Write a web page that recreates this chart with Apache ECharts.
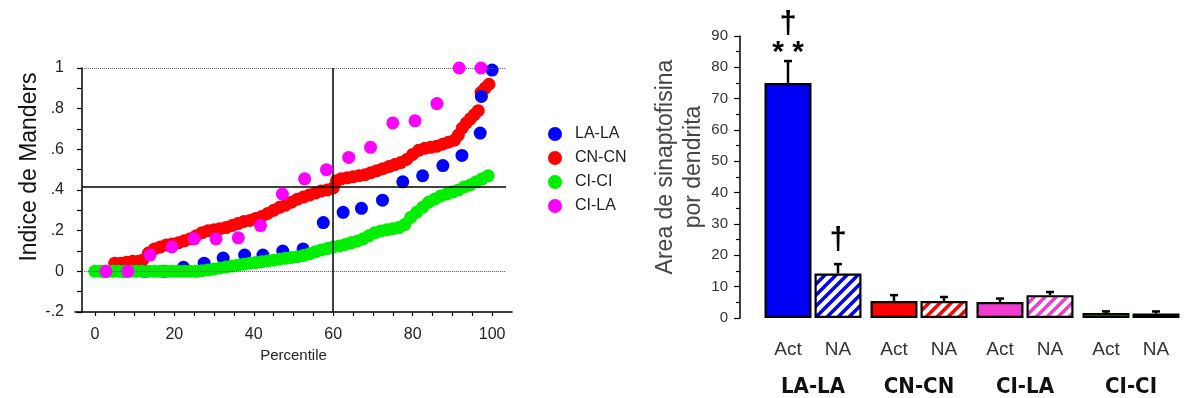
<!DOCTYPE html>
<html>
<head>
<meta charset="utf-8">
<script src="https://cdn.jsdelivr.net/npm/echarts@6/dist/echarts.min.js"></script>
<style>
html,body{margin:0;padding:0;background:#fff;}
#c{width:1184px;height:398px;}
</style>
</head>
<body>
<div id="c"></div>
<script>
// ---------- Left panel: Manders index vs percentile ----------
const laLa = [[2.5,0],[7.5,0],[12.5,0],[17.5,0],[22.3,0.02],[27.5,0.04],[32.3,0.065],[37.7,0.08],[42.3,0.08],[47.3,0.10],[52.4,0.11],[57.5,0.24],[62.5,0.29],[67.1,0.31],[72.4,0.35],[77.5,0.44],[82.5,0.47],[87.6,0.52],[92.4,0.57],[97.0,0.68],[97.3,0.86],[100,0.99]];
const cnCn = [[5,0.04],[6.5,0.04],[8,0.045],[9.5,0.05],[11,0.05],[12,0.055],[13.5,0.09],[15,0.11],[16.5,0.12],[18,0.13],[19.5,0.135],[21,0.14],[22.5,0.15],[24,0.16],[25.5,0.175],[27,0.19],[28.5,0.2],[30,0.205],[31.5,0.21],[33,0.215],[34.5,0.225],[36,0.235],[37.5,0.245],[39,0.25],[40.5,0.26],[42,0.27],[43.5,0.285],[45,0.3],[46.5,0.315],[48,0.325],[49.5,0.34],[51,0.355],[52.5,0.365],[54,0.375],[55.5,0.385],[57,0.395],[58.5,0.4],[60,0.41],[60.8,0.445],[62,0.455],[63.5,0.46],[65,0.465],[66.5,0.47],[68,0.475],[69.5,0.485],[71,0.495],[72.5,0.505],[74,0.515],[75.5,0.525],[77,0.535],[78.5,0.55],[80,0.575],[81.5,0.595],[83,0.605],[84.5,0.61],[86,0.615],[87.5,0.625],[89,0.635],[90.5,0.645],[91.5,0.67],[92.5,0.705],[93.5,0.73],[94.5,0.75],[95.5,0.77],[96.5,0.79],[97.2,0.88],[98.2,0.9],[99.2,0.92]];
const clCl = [[0,0],[1.5,0],[3,0],[4.5,0],[6,0],[7.5,0],[9,0],[10.5,0],[12,0],[13.5,0],[15,0],[16.5,0],[18,0],[19.5,0],[21,0],[22.5,0],[24,0],[25.5,0],[27,0.003],[28.5,0.007],[30,0.012],[31.5,0.017],[33,0.021],[34.5,0.026],[36,0.03],[37.5,0.035],[39,0.04],[40.5,0.043],[42,0.047],[43.5,0.051],[45,0.055],[46.5,0.06],[48,0.064],[49.5,0.068],[51,0.072],[52.5,0.078],[54,0.086],[55.5,0.096],[57,0.105],[58.5,0.112],[60,0.12],[61.5,0.125],[63,0.132],[64.5,0.14],[66,0.148],[67.5,0.16],[69,0.175],[70.5,0.19],[72,0.198],[73.5,0.205],[75,0.21],[76.5,0.215],[78,0.23],[79.5,0.265],[81,0.29],[82.5,0.315],[84,0.34],[85.5,0.355],[87,0.37],[88.5,0.38],[90,0.39],[91.5,0.4],[93,0.415],[94.5,0.425],[96,0.44],[97.5,0.455],[99,0.47]];
const clLa = [[2.8,0],[8.3,0],[13.9,0.08],[19.4,0.12],[25,0.16],[30.5,0.16],[36.1,0.165],[41.7,0.225],[47.2,0.38],[52.8,0.455],[58.3,0.5],[63.9,0.56],[69.4,0.61],[75,0.73],[80.6,0.74],[86.1,0.825],[91.7,1.0],[97.2,1.0]];
const legendNames = ['LA-LA','CN-CN','CI-CI','CI-LA'];
const xTickValues = [0,5,10,15,20,25,30,35,40,45,50,55,60,65,70,75,80,85,90,95,100];
const xLabelValues = [0,20,40,60,80,100];
const yTickValues = [-0.2,-0.1,0,0.1,0.2,0.3,0.4,0.5,0.6,0.7,0.8,0.9,1.0];
const yLabelValues = [-0.2,0,0.2,0.4,0.6,0.8,1.0];
const yLabelTexts = ['-.2','0','.2','.4','.6','.8','1'];
const refHorizontal = 0.418;
const refVertical = 60;

// ---------- Right panel: synaptophysin area ----------
const groups = ['LA-LA','CN-CN','CI-LA','CI-CI'];
const actValues = [75, 5.4, 5.1, 1.6];
const actErrors = [7, 1.9, 1.1, 0.5];
const naValues = [14.2, 5.4, 7.3, 1.4];
const naErrors = [3, 1.3, 1.0, 0.7];
const actMarks = ['†**','','',''];
const naMarks = ['†','','',''];
const groupColors = ['#0000f5','#ff0000','#f23ccf','#00c800'];

function hatch(c){
  const s = 11;
  const cv = document.createElement('canvas');
  cv.width = s; cv.height = s;
  const g = cv.getContext('2d');
  g.fillStyle = '#fff'; g.fillRect(0,0,s,s);
  g.strokeStyle = c; g.lineWidth = 3.5;
  g.beginPath();
  g.moveTo(-s/2, s/2); g.lineTo(s/2, -s/2);
  g.moveTo(0, s); g.lineTo(s, 0);
  g.moveTo(s/2, s*1.5); g.lineTo(s*1.5, s/2);
  g.stroke();
  return {image: cv, repeat: 'repeat'};
}

const FONT = '"Liberation Sans", Arial, sans-serif';
const HALF = 25; // half of bar pitch within group

function errSeries(vals, errs, marks, shift){
  return {
    type: 'custom', xAxisIndex: 1, yAxisIndex: 1, z: 5, silent: true,
    data: vals.map((v,i)=>[i, v, errs[i]]),
    encode: {x: 0, y: 1},
    renderItem: function(params, api){
      const i = api.value(0), v = api.value(1), e = api.value(2);
      const b = api.coord([i, v]);
      const t = api.coord([i, v + e]);
      const x = b[0] + shift;
      const ch = [
        {type:'line', shape:{x1:x, y1:b[1], x2:x, y2:t[1]}, style:{stroke:'#000', lineWidth:2.5}},
        {type:'line', shape:{x1:x-4, y1:t[1], x2:x+4, y2:t[1]}, style:{stroke:'#000', lineWidth:2.5}}
      ];
      const m = marks[params.dataIndex];
      if (m.indexOf('**') >= 0) {
        ch.push({type:'text', style:{text:'* *', x:x, y:t[1]-8, align:'center', verticalAlign:'middle', font:'bold 30px ' + FONT, fill:'#000'}});
        ch.push({type:'text', style:{text:'†', x:x, y:t[1]-37, align:'center', verticalAlign:'middle', font:'bold 31px ' + FONT, fill:'#000'}});
      } else if (m.indexOf('†') >= 0) {
        ch.push({type:'text', style:{text:'†', x:x, y:t[1]-24, align:'center', verticalAlign:'middle', font:'bold 31px ' + FONT, fill:'#000'}});
      }
      return {type:'group', children: ch};
    }
  };
}

const chart = echarts.init(document.getElementById('c'), null, {renderer:'canvas'});
const option = {
  backgroundColor: '#fff',
  animation: false,
  legend: {
    data: legendNames, orient: 'vertical', left: 543, top: 121,
    icon: 'circle', itemWidth: 14, itemHeight: 14, itemGap: 8,
    textStyle: {fontFamily: FONT, fontSize: 16, color: '#222', padding: [0,0,0,8]}
  },
  grid: [
    {left: 75, right: 672, top: 68, bottom: 86},
    {left: 760, right: -17, top: 36, bottom: 78}
  ],
  xAxis: [
    {
      type: 'value', gridIndex: 0, min: -5, max: 105,
      name: 'Percentile', nameLocation: 'middle', nameGap: 33,
      nameTextStyle: {fontFamily: FONT, fontSize: 15, color: '#222'},
      axisLine: {show: true, onZero: false, lineStyle: {color: '#000', width: 1.5}},
      axisTick: {show: true, customValues: xTickValues, length: 4, lineStyle: {color: '#000', width: 1.2}},
      axisLabel: {customValues: xLabelValues, margin: 15, fontFamily: FONT, fontSize: 16, color: '#222'},
      splitLine: {show: false}
    },
    {
      type: 'category', gridIndex: 1, data: groups,
      axisLine: {show: false}, axisTick: {show: false},
      axisLabel: {interval: 0, margin: 58, fontFamily: '"Liberation Sans Narrow", "DejaVu Sans Condensed", ' + FONT, fontWeight: 'bold', fontSize: 22, color: '#111'},
      splitLine: {show: false}
    }
  ],
  yAxis: [
    {
      type: 'value', gridIndex: 0, min: -0.2, max: 1.0, offset: -7,
      name: 'Indice de Manders', nameLocation: 'middle', nameGap: 33,
      nameTextStyle: {fontFamily: FONT, fontSize: 23, color: '#111', padding: [0, 0, 0, 46]},
      axisLine: {show: true, onZero: false, lineStyle: {color: '#000', width: 1.5}},
      axisTick: {show: true, customValues: yTickValues, length: 5, lineStyle: {color: '#000', width: 1.2}},
      axisLabel: {
        customValues: yLabelValues, margin: 18, fontFamily: FONT, fontSize: 16, color: '#222',
        formatter: function(v){ const k = yLabelValues.findIndex(u => Math.abs(u - v) < 1e-6); return k >= 0 ? yLabelTexts[k] : ''; }
      },
      splitLine: {show: false}
    },
    {
      type: 'value', gridIndex: 1, min: 0, max: 90, interval: 10, offset: 20,
      name: 'Area de sinaptofisina\npor dendrita', nameLocation: 'middle', nameGap: 31,
      nameTextStyle: {fontFamily: FONT, fontSize: 23, color: '#444', lineHeight: 28, padding: [0, 0, 0, 20]},
      axisLine: {show: true, onZero: false, lineStyle: {color: '#000', width: 1.5}},
      axisTick: {show: true, length: 6, lineStyle: {color: '#000', width: 1.2}},
      minorTick: {show: true, splitNumber: 2, length: 4, lineStyle: {color: '#000', width: 1.2}},
      axisLabel: {margin: 12, fontFamily: FONT, fontSize: 15, color: '#333'},
      splitLine: {show: false}
    }
  ],
  series: [
    {
      type: 'line', xAxisIndex: 0, yAxisIndex: 0, data: [], z: 1, silent: true,
      markLine: {
        silent: true, symbol: 'none', label: {show: false}, animation: false,
        data: [
          [{coord: [-3.2, 1], lineStyle: {color: '#555', type: 'dotted', width: 1}}, {coord: [103.5, 1]}],
          [{coord: [-3.2, 0], lineStyle: {color: '#555', type: 'dotted', width: 1}}, {coord: [103.5, 0]}],
          [{coord: [-3.2, refHorizontal], lineStyle: {color: '#000', type: 'solid', width: 1.5}}, {coord: [103.5, refHorizontal]}],
          [{coord: [refVertical, -0.2], lineStyle: {color: '#000', type: 'solid', width: 1.5}}, {coord: [refVertical, 1]}]
        ]
      }
    },
    {name: 'CN-CN', type: 'scatter', xAxisIndex: 0, yAxisIndex: 0, data: cnCn, symbolSize: 13, itemStyle: {color: '#ff0000', opacity: 1}, z: 2},
    {name: 'LA-LA', type: 'scatter', xAxisIndex: 0, yAxisIndex: 0, data: laLa, symbolSize: 13, itemStyle: {color: '#0000ff', opacity: 1}, z: 3},
    {name: 'CI-CI', type: 'scatter', xAxisIndex: 0, yAxisIndex: 0, data: clCl, symbolSize: 13, itemStyle: {color: '#00ee00', opacity: 1}, z: 4},
    {name: 'CI-LA', type: 'scatter', xAxisIndex: 0, yAxisIndex: 0, data: clLa, symbolSize: 13, itemStyle: {color: '#ff00ff', opacity: 1}, z: 5},
    {
      name: 'Act', type: 'bar', xAxisIndex: 1, yAxisIndex: 1, barWidth: 47, barGap: '6.4%',
      data: actValues.map((v,i)=>({value: v, itemStyle: {color: groupColors[i]}})),
      itemStyle: {borderColor: '#000', borderWidth: 2.2},
      label: {show: true, position: 'bottom', distance: 22, formatter: 'Act', fontFamily: FONT, fontSize: 19, color: '#333'}
    },
    {
      name: 'NA', type: 'bar', xAxisIndex: 1, yAxisIndex: 1, barWidth: 47,
      data: naValues.map((v,i)=>({value: v, itemStyle: {color: hatch(groupColors[i])}})),
      itemStyle: {borderColor: '#000', borderWidth: 2.2},
      label: {show: true, position: 'bottom', distance: 22, formatter: 'NA', fontFamily: FONT, fontSize: 19, color: '#333'}
    },
    errSeries(actValues, actErrors, actMarks, -HALF),
    errSeries(naValues, naErrors, naMarks, HALF)
  ]
};
chart.setOption(option);
</script>
</body>
</html>
